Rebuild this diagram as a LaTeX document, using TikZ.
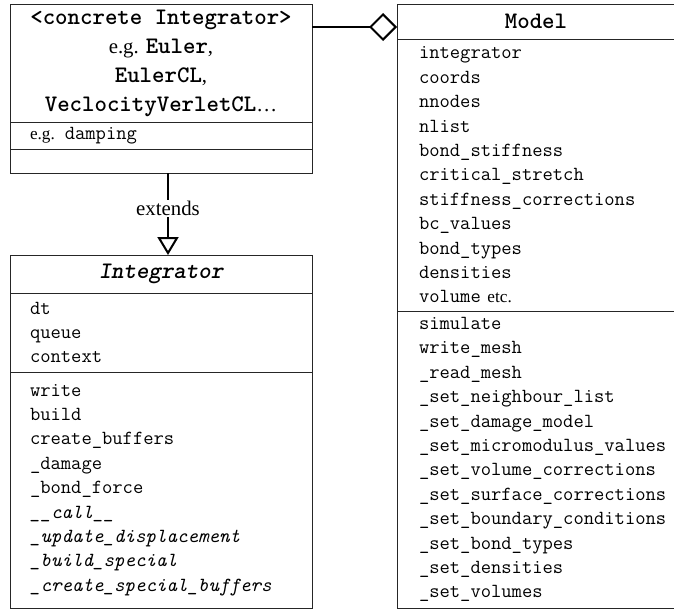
\documentclass[tikz,border=0pt]{standalone}
\usepackage{fontspec}
\setmainfont{Liberation Serif}
\usepackage{tikz}
\usetikzlibrary{arrows.meta, positioning}
\hyphenpenalty=10000
\exhyphenpenalty=10000
\tikzstyle{classtitle} = [rectangle, draw=black!85, line width=1pt, outer sep=0pt, inner sep=0pt, align=center, font=\fontsize{20.8}{29}\selectfont]
\tikzstyle{compartment} = [rectangle, draw=black!85, line width=1pt, outer sep=0pt, inner xsep=20pt, inner ysep=0pt, align=left, font=\fontsize{20}{24.4}\selectfont\ttfamily]
\tikzstyle{aggregation} = [line width=2pt, -{Diamond[open, length=28pt, width=28pt, line width=2pt]}]
\tikzstyle{extension} = [line width=2pt, -{Triangle[open, length=18pt, width=21pt, line width=2pt]}]
\newcommand{\tb}[1]{{\fontsize{23.7}{29}\selectfont\ttfamily\bfseries #1}}
\newcommand{\rmtxt}[1]{{\fontsize{17.2}{24.4}\selectfont\rmfamily #1}}

\begin{document}
\begin{tikzpicture}[x=1pt, y=-1pt]

            \useasboundingbox (0,0) rectangle (674,608);
            \clip (0,0) rectangle (674,608);

            % Concrete integrator class
            \node (concretetitle) [classtitle, minimum width=302pt, minimum height=118pt, anchor=north west] at (10,4) {\tb{<concrete Integrator>}\\ e.g. \tb{Euler},\\ \tb{EulerCL},\\ \tb{VeclocityVerletCL}\ldots};
            \node (concreteattr) [compartment, text width=262pt, minimum height=27pt, below=0pt of concretetitle] {\rmtxt{e.g.} damping};
            \node (concretemethods) [compartment, text width=262pt, minimum height=24pt, below=0pt of concreteattr] {};

            % Abstract integrator class
            \node (integratortitle) [classtitle, minimum width=302pt, minimum height=38pt, anchor=north west] at (10,255) {\tb{\itshape Integrator}};
            \node (integratorattr) [compartment, text width=262pt, minimum height=79pt, below=0pt of integratortitle] {dt\\ queue\\ context};
            \node (integratormethods) [compartment, text width=262pt, minimum height=236pt, below=0pt of integratorattr] {write\\ build\\ create\_buffers\\ \_damage\\ \_bond\_force\\ \textit{\_\_call\_\_}\\ \textit{\_update\_displacement}\\ \textit{\_build\_special}\\ \textit{\_create\_special\_buffers}};

            % Model class
            \node (modeltitle) [classtitle, minimum width=278pt, minimum height=35pt, anchor=north west] at (397,4) {\tb{Model}};
            \node (modelattr) [compartment, inner xsep=22pt, text width=234pt, minimum height=272pt, below=0pt of modeltitle] {integrator\\ coords\\ nnodes\\ nlist\\ bond\_stiffness\\ critical\_stretch\\ stiffness\_corrections\\ bc\_values\\ bond\_types\\ densities\\ volume \rmtxt{etc.}};
            \node (modelmethods) [compartment, inner xsep=22pt, text width=234pt, minimum height=297pt, below=0pt of modelattr] {simulate\\ write\_mesh\\ \_read\_mesh\\ \_set\_neighbour\_list\\ \_set\_damage\_model\\ \_set\_micromodulus\_values\\ \_set\_volume\_corrections\\ \_set\_surface\_corrections\\ \_set\_boundary\_conditions\\ \_set\_bond\_types\\ \_set\_densities\\ \_set\_volumes};

            % Relations
            \draw [aggregation] ([yshift=-23pt]concretetitle.north east) -- ([yshift=-23pt]modeltitle.north west);
            \draw [extension] ([xshift=7pt]concretemethods.south) -- node[pos=0.43, fill=white, inner sep=1pt, font=\fontsize{20.8}{24}\selectfont] {extends} ([xshift=7pt]integratortitle.north);

        \end{tikzpicture}
\end{document}
